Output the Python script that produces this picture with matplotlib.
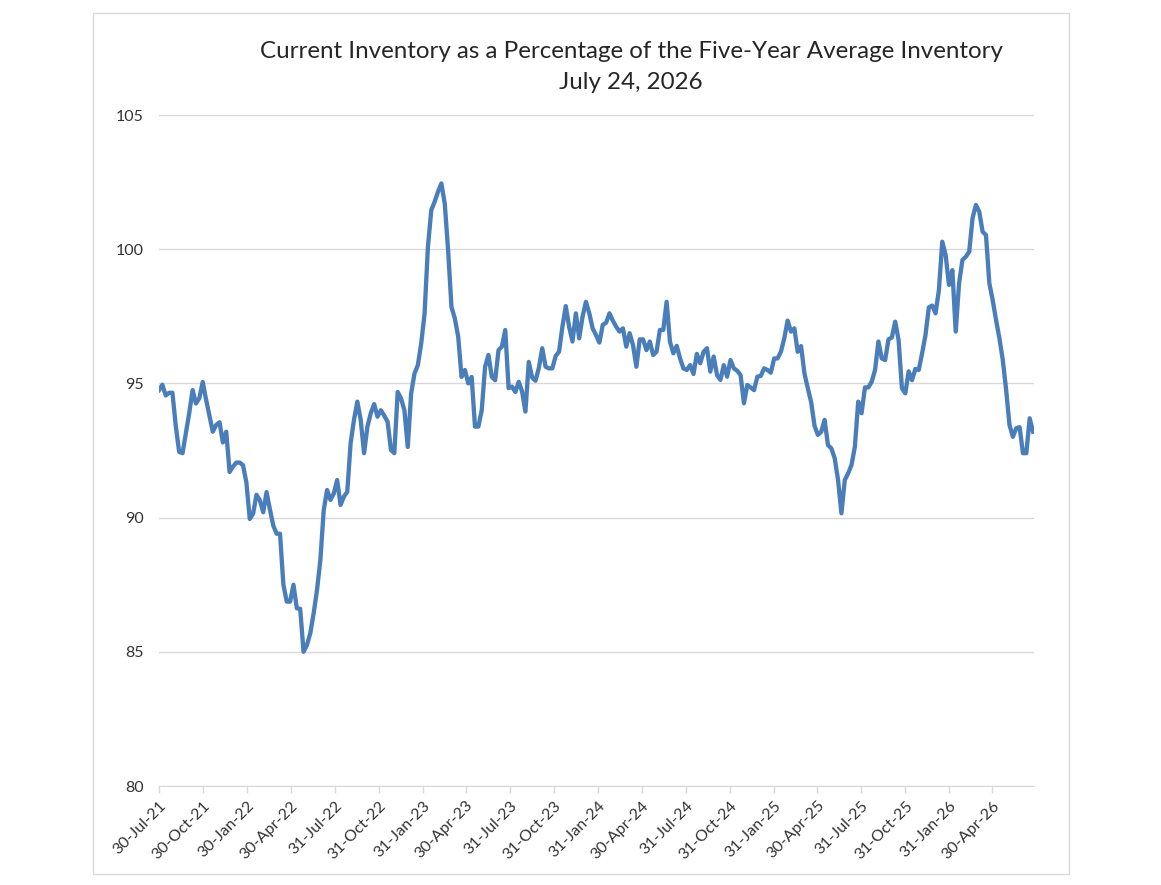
import numpy as np
import pandas as pd
import matplotlib
matplotlib.use("Agg")
import matplotlib.pyplot as plt
import matplotlib.dates as mdates
from matplotlib.patches import Rectangle

plt.rcParams['font.family'] = ['Lato', 'DejaVu Sans']

##### Data ####################################################################

title = "Current Inventory as a Percentage of the Five-Year Average Inventory\nJuly 24, 2026"

start_date = "2021-07-30"

# Weekly readings, current inventory as % of the five-year average.
pct_2021_22 = [
  94.75, 94.95, 94.55, 94.65, 94.65, 93.4, 92.45, 92.4, 93.15, 93.9,
  94.75, 94.25, 94.45, 95.05, 94.4, 93.8, 93.2, 93.45, 93.55, 92.8,
  93.2, 91.7, 91.9, 92.05, 92.05, 91.95, 91.3, 89.95, 90.15, 90.85,
  90.65, 90.2, 90.95, 90.3, 89.7, 89.4, 89.4, 87.5, 86.87, 86.87,
  87.5, 86.62, 86.6, 85.0, 85.25, 85.69, 86.43, 87.3, 88.42, 90.28,
  91.03, 90.66,
]
pct_2022_23 = [
  90.9, 91.4, 90.47, 90.78, 90.96, 92.77, 93.64, 94.32, 93.64, 92.4,
  93.39, 93.89, 94.23, 93.76, 94.0, 93.8, 93.57, 92.52, 92.4, 94.68,
  94.44, 94.0, 92.63, 94.62, 95.37, 95.68, 96.49, 97.6, 100.09, 101.46,
  101.77, 102.14, 102.45, 101.7, 99.97, 97.85, 97.42, 96.74, 95.24, 95.5,
  95.0, 95.24, 93.39, 93.39, 94.0, 95.62, 96.06, 95.24, 95.12, 96.24,
  96.37, 96.99,
]
pct_2023_24 = [
  94.82, 94.88, 94.68, 95.06, 94.7, 93.95, 95.8, 95.22, 95.1, 95.58,
  96.31, 95.62, 95.56, 95.56, 96.02, 96.18, 97.11, 97.88, 97.11, 96.56,
  97.61, 96.68, 97.49, 98.04, 97.61, 97.05, 96.8, 96.52, 97.18, 97.26,
  97.61, 97.34, 97.11, 96.93, 97.05, 96.37, 96.87, 96.43, 95.62, 96.64,
  96.64, 96.24, 96.56, 96.06, 96.18, 96.99, 96.99, 98.04, 96.55, 96.12,
  96.4, 95.93,
]
pct_2024_25 = [
  95.56, 95.5, 95.68, 95.35, 96.1, 95.75, 96.18, 96.31, 95.44, 96.0,
  95.31, 95.13, 95.68, 95.25, 95.87, 95.56, 95.47, 95.31, 94.26, 94.94,
  94.85, 94.75, 95.25, 95.28, 95.56, 95.5, 95.4, 95.93, 95.93, 96.18,
  96.68, 97.34, 96.93, 97.05, 96.18, 96.39, 95.37, 94.82, 94.3, 93.42,
  93.08, 93.2, 93.64, 92.7, 92.58, 92.21, 91.4, 90.16, 91.4, 91.65,
  91.96, 92.64,
]
pct_2025_26 = [
  94.32, 93.89, 94.85, 94.85, 95.06, 95.5, 96.56, 95.93, 95.87, 96.64,
  96.71, 97.3, 96.62, 94.82, 94.63, 95.45, 95.12, 95.54, 95.5, 96.12,
  96.8, 97.83, 97.9, 97.61, 98.48, 100.28, 99.78, 98.67, 99.22, 96.93,
  98.73, 99.6, 99.72, 99.9, 101.15, 101.65, 101.4, 100.65, 100.53, 98.73,
  98.1, 97.36, 96.68, 95.87, 94.75, 93.45, 93.01, 93.33, 93.37, 92.4,
  92.4, 93.7, 93.2,
]

tick_dates = [
  "2021-07-30", "2021-10-30", "2022-01-30", "2022-04-30", "2022-07-31",
  "2022-10-31", "2023-01-31", "2023-04-30", "2023-07-31", "2023-10-31",
  "2024-01-31", "2024-04-30", "2024-07-31", "2024-10-31", "2025-01-31",
  "2025-04-30", "2025-07-31", "2025-10-31", "2026-01-31", "2026-04-30",
]
tick_labels = [
  "30-Jul-21", "30-Oct-21", "30-Jan-22", "30-Apr-22", "31-Jul-22",
  "31-Oct-22", "31-Jan-23", "30-Apr-23", "31-Jul-23", "31-Oct-23",
  "31-Jan-24", "30-Apr-24", "31-Jul-24", "31-Oct-24", "31-Jan-25",
  "30-Apr-25", "31-Jul-25", "31-Oct-25", "31-Jan-26", "30-Apr-26",
]
y_ticks = [80, 85, 90, 95, 100, 105]

##### End data ################################################################

values = pct_2021_22 + pct_2022_23 + pct_2023_24 + pct_2024_25 + pct_2025_26
dates = pd.date_range(start_date, periods=len(values), freq="7D")
print("points:", len(values), "last date:", dates[-1].date())

W, H = 1161, 885
fig = plt.figure(figsize=(W / 100, H / 100), dpi=100)

# Chart-area border
fig.patches.append(Rectangle(
  (93 / W, 1 - 874 / H), (1069 - 93) / W, (874 - 13) / H,
  transform=fig.transFigure, fill=False, edgecolor="#d9d9d9", linewidth=1))

ax = fig.add_axes([159 / W, 1 - 786 / H, (1034 - 159) / W, (786 - 115) / H])

ax.plot(dates, values, color="#4a7ebb", linewidth=3.1, solid_joinstyle="round")

ax.set_ylim(80, 105)
ax.set_yticks(y_ticks)
ax.set_xlim(dates[0], dates[-1] + pd.Timedelta(days=2))

tick_pos = pd.to_datetime(tick_dates)
ax.set_xticks(tick_pos)
ax.set_xticklabels(tick_labels, rotation=45, ha="right", rotation_mode="anchor")

ax.grid(axis="y", color="#d9d9d9", linewidth=1)
ax.set_axisbelow(True)
for side in ["left", "right", "top"]:
  ax.spines[side].set_visible(False)
ax.spines["bottom"].set_color("#d9d9d9")
ax.tick_params(axis="y", length=0, pad=11, labelsize=11.5, labelcolor="#333333")
ax.tick_params(axis="x", length=5, width=1, color="#d9d9d9", direction="out",
               pad=4, labelsize=11.5, labelcolor="#333333")

fig.text(631 / W, 1 - 67 / H, title, ha="center", va="center", fontsize=17.4,
         color="#262626", linespacing=1.6)

fig.savefig("out.png", dpi=100)
